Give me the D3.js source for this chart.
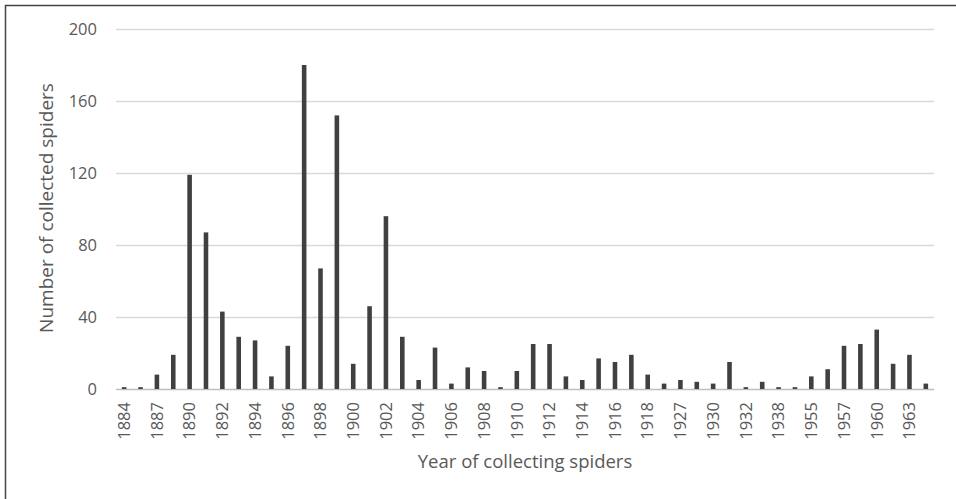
<!doctype html>
<html lang="en">
<head>
    <meta charset="UTF-8">
    <title>Spiders</title>
    <script src="https://cdnjs.cloudflare.com/ajax/libs/d3/7.8.5/d3.min.js"></script>
    <style>
        body { margin: 0; background: #fff; }
        text { font-family: "Open Sans", Lato, sans-serif; fill: #595959; }
    </style>
</head>
<body>
<svg id="chart" width="956" height="499"></svg>

<script>

    // years on the x axis (only every other one is labelled)
    var years = ['1884', '1886', '1887', '1889', '1890', '1891', '1892', '1893', '1894', '1895',
        '1896', '1897', '1898', '1899', '1900', '1901', '1902', '1903', '1904', '1905',
        '1906', '1907', '1908', '1909', '1910', '1911', '1912', '1913', '1914', '1915',
        '1916', '1917', '1918', '1925', '1927', '1929', '1930', '1931', '1932', '1936',
        '1938', '1950', '1955', '1956', '1957', '1959', '1960', '1961', '1963', '1965'];

    var spiders = [1, 1, 8, 19, 119, 87, 43, 29, 27, 7,
        24, 180, 67, 152, 14, 46, 96, 29, 5, 23,
        3, 12, 10, 1, 10, 25, 25, 7, 5, 17,
        15, 19, 8, 3, 5, 4, 3, 15, 1, 4,
        1, 1, 7, 11, 24, 25, 33, 14, 19, 3];

    var yTicks = [0, 40, 80, 120, 160, 200];

    // plot area edges
    var pLeft = 116, pRight = 934, pTop = 29, pBottom = 389;

    var svg = d3.select('#chart');

    // outer frame
    svg.append('rect')
        .attr('x', 5.5)
        .attr('y', 5.5)
        .attr('width', 960)
        .attr('height', 500)
        .attr('fill', 'none')
        .attr('stroke', '#444')
        .attr('stroke-width', 1.5);

    var x = d3.scaleBand()
        .domain(years)
        .range([pLeft, pRight])
        .paddingInner(0.72)
        .paddingOuter(0.36);

    var y = d3.scaleLinear()
        .domain([0, 200])
        .range([pBottom, pTop]);

    // gridlines + y labels
    var yAxis = svg.append('g')
        .attr('transform', 'translate(' + pLeft + ',0)')
        .call(d3.axisLeft(y)
            .tickValues(yTicks)
            .tickSize(-(pRight - pLeft))
            .tickPadding(19));

    yAxis.select('.domain').remove();
    yAxis.selectAll('.tick line')
        .attr('stroke', function (d) { return d === 0 ? '#bfbfbf' : '#d9d9d9'; })
        .attr('stroke-width', 1.3);
    yAxis.selectAll('.tick text')
        .attr('font-size', '16.5px')
        .style('font-family', '"Open Sans", sans-serif')
        .style('fill', '#595959');

    // bars
    svg.selectAll('rect.bar')
        .data(spiders)
        .enter()
        .append('rect')
        .attr('class', 'bar')
        .attr('x', function (d, i) { return x(years[i]); })
        .attr('y', function (d) { return y(d); })
        .attr('width', x.bandwidth())
        .attr('height', function (d) { return y(0) - y(d); })
        .attr('fill', '#404040');

    // x labels, rotated
    var xAxis = svg.append('g')
        .attr('transform', 'translate(0,' + pBottom + ')')
        .call(d3.axisBottom(x)
            .tickValues(years.filter(function (d, i) { return i % 2 === 0; }))
            .tickSize(0)
            .tickPadding(0));

    xAxis.select('.domain').remove();
    xAxis.selectAll('.tick text')
        .attr('font-size', '16.5px')
        .style('font-family', '"Open Sans", sans-serif')
        .attr('transform', 'rotate(-90)')
        .attr('text-anchor', 'end')
        .attr('x', -13)
        .attr('y', 0)
        .attr('dy', '0.35em')
        .style('fill', '#595959');

    // axis titles
    svg.append('text')
        .attr('x', (pLeft + pRight) / 2)
        .attr('y', 468)
        .attr('text-anchor', 'middle')
        .attr('font-size', '18.5px')
        .text('Year of collecting spiders');

    svg.append('text')
        .attr('transform', 'translate(53,208) rotate(-90)')
        .attr('text-anchor', 'middle')
        .attr('font-size', '19px')
        .text('Number of collected spiders');

</script>
</body>
</html>
